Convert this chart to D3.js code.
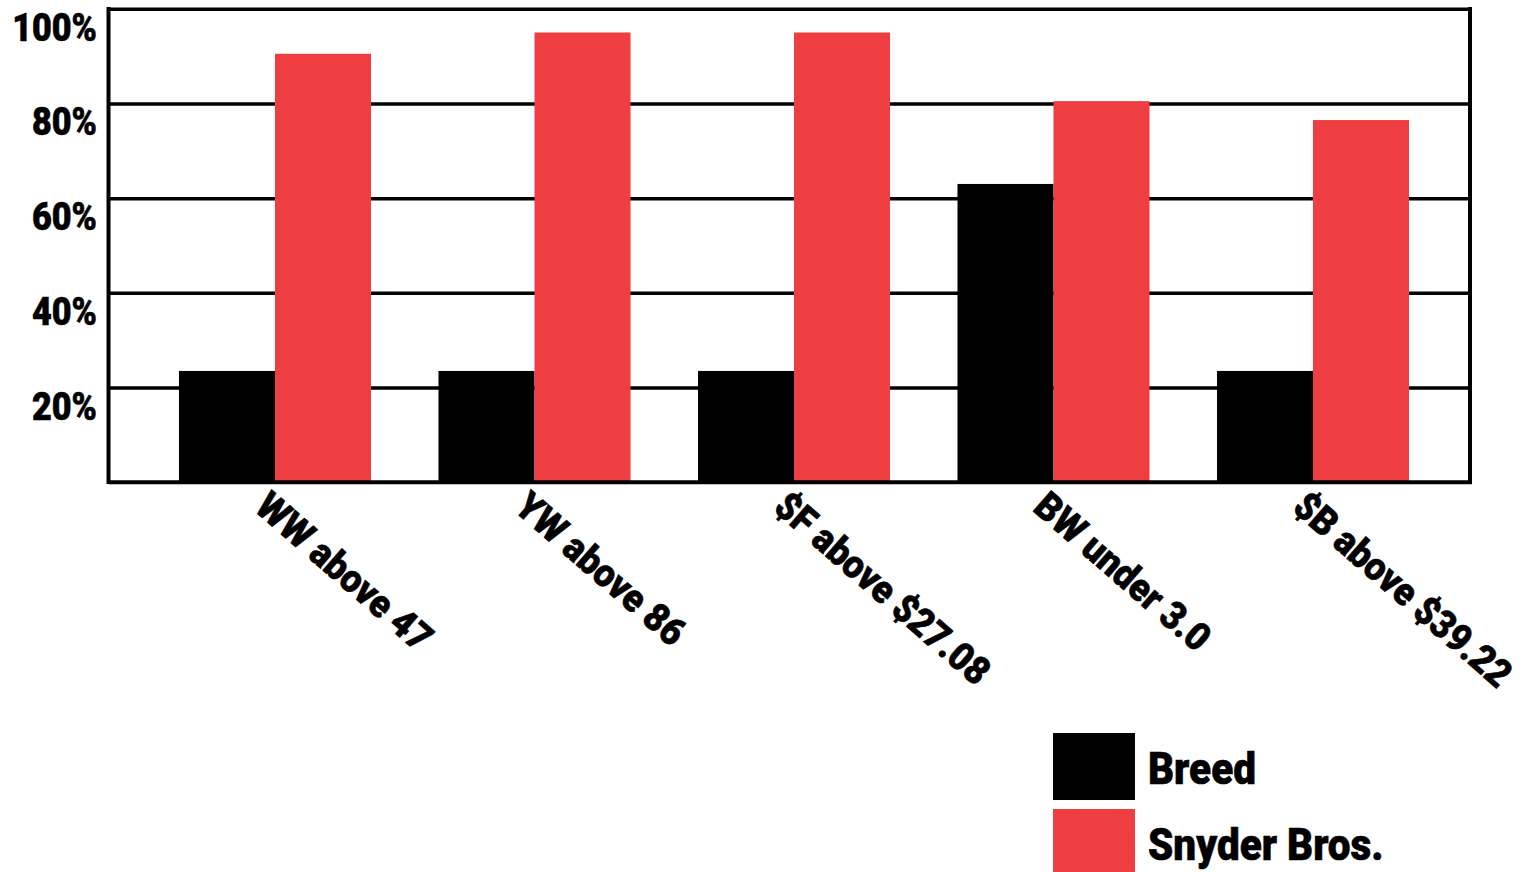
<!DOCTYPE html>
<html>
<head>
<meta charset="utf-8">
<script src="https://cdn.jsdelivr.net/npm/d3@7"></script>
<style>
  body { margin: 0; background: #fff; }
  svg { display: block; }
  text { font-family: Roboto, "Liberation Sans", sans-serif; font-weight: 900; fill: #000; stroke: #000; stroke-width: 0.6px; }
</style>
</head>
<body>
<svg></svg>
<script>
"use strict";
// data
var categories = ["WW above 47", "YW above 86", "$F above $27.08", "BW under 3.0", "$B above $39.22"];
var seriesNames = ["Breed", "Snyder Bros."];
var breed = [23.5, 23.5, 23.5, 63, 23.5];
var snyder = [90.5, 95, 95, 80.5, 76.5];
var yTicks = [20, 40, 60, 80, 100];
var colors = ["#000000", "#ef3e42"];

var svgWidth = 1523, svgHeight = 872;
var plotLeft = 108.5, plotRight = 1470, plotTop = 8.8, plotBottom = 482.2;

var svg = d3.select("svg").attr("width", svgWidth).attr("height", svgHeight);

var x = d3.scaleBand().domain(categories).range([145.25, 1442.75]).paddingInner(0.26).paddingOuter(0.13);
var xs = d3.scaleBand().domain(seriesNames).range([0, x.bandwidth()]);
var y = d3.scaleLinear().domain([0, 100]).range([plotBottom, plotTop]);

// gridlines
var grid = svg.append("g").attr("transform", "translate(" + plotLeft + ",0)")
  .call(d3.axisLeft(y).tickValues(yTicks).tickSize(-(plotRight - plotLeft)).tickFormat(""));
grid.select(".domain").remove();
grid.selectAll("line").attr("stroke", "#000").attr("stroke-width", 3.5);

// bars
var rows = categories.map(function(c, i) { return { cat: c, vals: [breed[i], snyder[i]] }; });
var groups = svg.selectAll("g.grp").data(rows).enter().append("g").attr("class", "grp")
  .attr("transform", function(d) { return "translate(" + x(d.cat) + ",0)"; });
groups.selectAll("rect").data(function(d) { return d.vals.map(function(v, j) { return { name: seriesNames[j], v: v, j: j }; }); })
  .enter().append("rect")
  .attr("x", function(d) { return xs(d.name); })
  .attr("width", xs.bandwidth())
  .attr("y", function(d) { return y(d.v); })
  .attr("height", function(d) { return y(0) - y(d.v); })
  .attr("fill", function(d) { return colors[d.j]; });

// frame: left, right, bottom
svg.append("line").attr("x1", plotLeft).attr("x2", plotLeft).attr("y1", plotTop - 1.75).attr("y2", plotBottom + 1.75).attr("stroke", "#000").attr("stroke-width", 4);
svg.append("line").attr("x1", plotRight).attr("x2", plotRight).attr("y1", plotTop - 1.75).attr("y2", plotBottom + 1.75).attr("stroke", "#000").attr("stroke-width", 4);
svg.append("line").attr("x1", plotLeft).attr("x2", plotRight + 2).attr("y1", plotBottom).attr("y2", plotBottom).attr("stroke", "#000").attr("stroke-width", 4);

// y labels (squeezed a bit to look condensed)
svg.selectAll("text.ylab").data(yTicks).enter().append("text").attr("class", "ylab")
  .attr("transform", function(d) { return "translate(97," + (y(d) + 32) + ") scale(0.9,1)"; })
  .attr("text-anchor", "end").attr("font-size", 38)
  .text(function(d) { return d + "%"; });

// x labels
svg.selectAll("text.xlab").data(categories).enter().append("text").attr("class", "xlab")
  .attr("font-size", 39)
  .attr("transform", function(d) { return "translate(" + (x(d) + x.bandwidth() / 2 - 22) + ",510) rotate(41) scale(0.92,1)"; })
  .text(function(d) { return d; });

// legend
var legend = svg.selectAll("g.leg").data(seriesNames).enter().append("g").attr("class", "leg")
  .attr("transform", function(d, i) { return "translate(1053," + (733 + i * 76) + ")"; });
legend.append("rect").attr("width", 82).attr("height", 67).attr("fill", function(d, i) { return colors[i]; });
legend.append("text").attr("transform", "translate(95,51) scale(0.92,1)").attr("font-size", 44).text(function(d) { return d; });
</script>
</body>
</html>
